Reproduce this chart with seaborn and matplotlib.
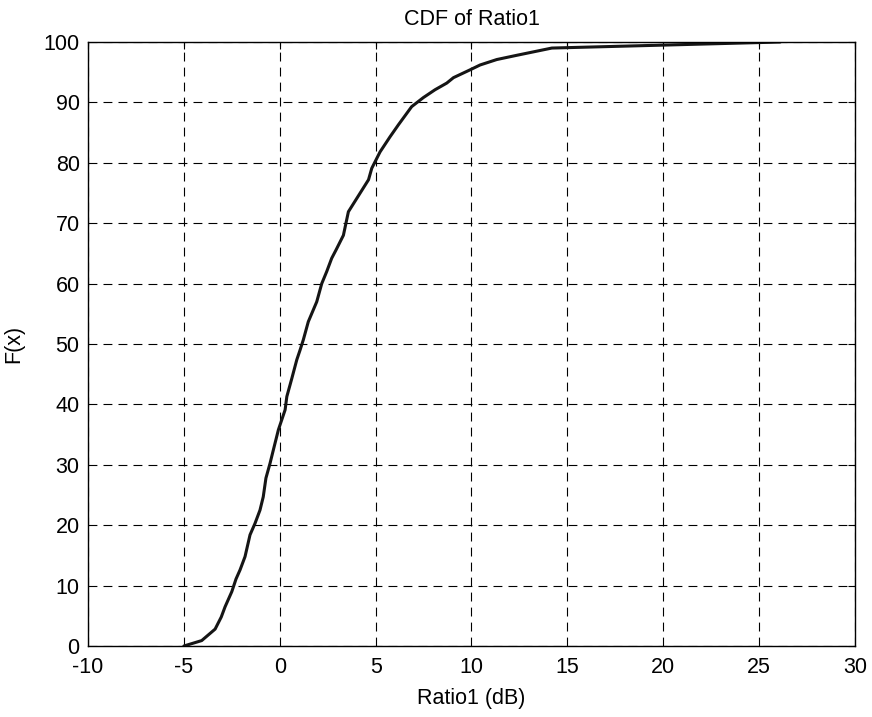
import matplotlib
matplotlib.use("Agg")
import matplotlib.pyplot as plt
import seaborn as sns
import pandas as pd

# Empirical CDF of Ratio1 (dB) and cumulative percentage
ratio_db = [-5.0, -4.07, -3.37, -3.05, -2.85, -2.5, -2.28, -2.07, -1.81, -1.55,
            -1.29, -1.03, -0.86, -0.72, -0.51, -0.33, -0.07, 0.1, 0.28, 0.37,
            0.63, 0.89, 1.06, 1.23, 1.49, 1.93, 2.19, 2.45, 2.71, 2.94,
            3.32, 3.58, 4.63, 4.8, 5.23, 5.75, 6.19, 6.88, 7.49, 8.1,
            8.71, 9.06, 9.93, 10.45, 11.32, 12.36, 14.19, 26.1]
cdf_pct = [0.0, 0.9, 2.8, 4.8, 6.5, 9.0, 11.1, 12.6, 14.8, 18.4,
           20.3, 22.5, 24.7, 27.8, 30.2, 32.5, 35.8, 37.4, 39.1, 41.3,
           44.3, 47.4, 49.0, 50.7, 53.7, 57.0, 60.0, 62.0, 64.2, 65.6,
           68.0, 71.9, 77.2, 79.1, 81.8, 84.3, 86.3, 89.3, 90.8, 92.1,
           93.2, 94.1, 95.4, 96.2, 97.1, 97.8, 99.0, 100.0]

x_ticks = list(range(-10, 31, 5))
y_ticks = list(range(0, 101, 10))

sns.set_style("white")
plt.rcParams["font.family"] = ["Liberation Sans", "DejaVu Sans"]
plt.rcParams["axes.unicode_minus"] = False
plt.rcParams["text.color"] = "black"
plt.rcParams["axes.labelcolor"] = "black"

FS = 15.5

df = pd.DataFrame({"Ratio1 (dB)": ratio_db, "F(x)": cdf_pct})

fig = plt.figure(figsize=(8.72, 7.17), dpi=100)
ax = fig.add_axes([0.1009, 0.099, 0.8796, 0.8424])

sns.lineplot(data=df, x="Ratio1 (dB)", y="F(x)", sort=False, ax=ax,
             color="#151515", linewidth=2.2)

ax.set_xlim(-10, 30)
ax.set_ylim(0, 100)
ax.set_xticks(x_ticks)
ax.set_yticks(y_ticks)
ax.grid(True, color="black", linestyle=(0, (8, 5.5)), linewidth=0.8)
ax.tick_params(direction="in", length=5, width=0.8, labelsize=FS,
               top=True, right=True, colors="black")
ax.tick_params(axis="x", pad=8)
ax.tick_params(axis="y", pad=6)
for s in ax.spines.values():
    s.set_color("black")
    s.set_linewidth(1.0)
    s.set_visible(True)

ax.set_title("CDF of Ratio1", fontsize=FS, pad=12, color="black")
ax.set_xlabel("Ratio1 (dB)", fontsize=FS, labelpad=7)
ax.set_ylabel("F(x)", fontsize=FS, labelpad=14)

fig.savefig("out.png", dpi=100, facecolor="white")
